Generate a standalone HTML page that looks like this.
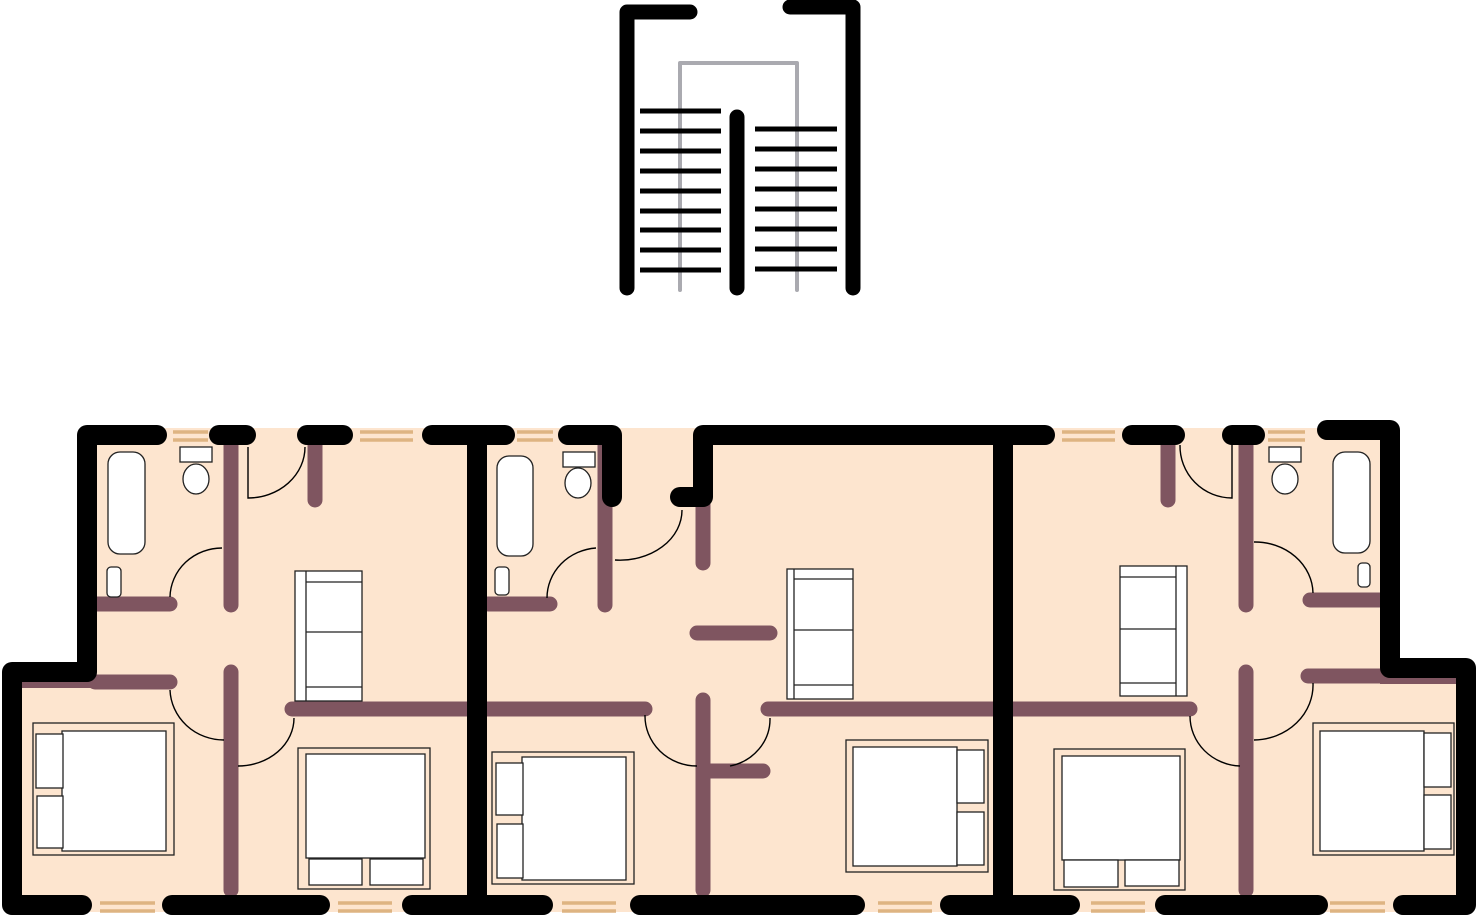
<!DOCTYPE html>
<html><head><meta charset="utf-8"><style>html,body{margin:0;padding:0;background:#fff}svg{display:block}</style></head>
<body>
<svg width="1481" height="917" viewBox="0 0 1481 917" xmlns="http://www.w3.org/2000/svg">
<!-- stairs -->
<g fill="none" stroke-linecap="round" stroke-linejoin="round">
<path d="M680,290 L680,63 L797,63 L797,290" stroke="#aaaab0" stroke-width="4"/>
<g stroke="#000" stroke-width="5" stroke-linecap="butt">
<path d="M640,111H721M640,131H721M640,151H721M640,171H721M640,191H721M640,211H721M640,230H721M640,250H721M640,270H721"/>
<path d="M755,129H837M755,149H837M755,169H837M755,189H837M755,209H837M755,229H837M755,249H837M755,269H837"/>
</g>
<path d="M627,288 L627,12 L690,12" stroke="#000" stroke-width="15"/>
<path d="M790,7 L853,7 L853,288" stroke="#000" stroke-width="15"/>
<path d="M737,117 L737,288" stroke="#000" stroke-width="15"/>
</g>
<!-- floor -->
<polygon points="87,428 1393,428 1393,668 1471,668 1471,912 10,912 10,672 87,672" fill="#fde5cf"/>
<!-- windows -->
<g stroke="#deb482" stroke-width="3.5">
<path d="M173,432H208M173,440H208M360,432H413M360,440H413M517,432H553M517,440H553M1062,432H1115M1062,440H1115M1268,432H1305M1268,440H1305"/>
<path d="M100,903H155M100,911H155M338,903H392M338,911H392M562,903H616M562,911H616M878,903H932M878,911H932M1091,903H1145M1091,911H1145M1330,903H1385M1330,911H1385"/>
</g>
<!-- partitions -->
<g stroke="#7f5560" stroke-width="15" stroke-linecap="round" fill="none">
<path d="M231,440V605M231,672V890M95,604H170M95,682H170M315,440V500M292,709H645"/>
<path d="M605,440V605M488,604H550M703,500V563M697,633H770M703,700V890M703,771H763M768,709H1190"/>
<path d="M1168,440V500M1246,440V605M1246,672V890M1310,600H1385M1308,676H1390"/>
</g>
<g stroke="#7f5560" stroke-width="8"><path d="M20,684H100M1380,680H1466"/></g>
<!-- exterior walls -->
<g stroke="#000" stroke-width="20" stroke-linecap="round" stroke-linejoin="round" fill="none">
<path d="M157,435 L87,435 L87,672 L12,672 L12,905 L82,905"/>
<path d="M219,435H246M307,435H343M432,435H505M477,435V905M172,905H320M412,905H543M640,905H855M950,905H1070M1165,905H1318"/>
<path d="M568,435H612V497"/><path d="M680,497H703V435H1045M1003,435V905"/>
<path d="M1132,435H1175M1232,435H1255"/>
<path d="M1327,430 L1390,430 L1390,668 L1466,668 L1466,905 L1403,905"/>
</g>
<!-- doors -->
<g stroke="#000" stroke-width="1.4" fill="none">
<path d="M222,548 A52,50 0 0,0 170,597"/>
<path d="M248,447 L248,498 A57,51 0 0,0 305,447"/>
<path d="M170,690 A54,52 0 0,0 224,740"/>
<path d="M294,718 A56,48 0 0,1 238,766"/>
<path d="M596,548 A53,50 0 0,0 547,598"/>
<path d="M682,510 A62,50 0 0,1 615,560"/>
<path d="M645,715 A52,50 0 0,0 697,766"/>
<path d="M770,718 A50,48 0 0,1 730,766"/>
<path d="M1180,445 A52,52 0 0,0 1232,498 L1232,445"/>
<path d="M1254,542 A58,52 0 0,1 1313,593"/>
<path d="M1190,716 A52,50 0 0,0 1240,766"/>
<path d="M1313,683 A60,55 0 0,1 1254,740"/>
</g>
<!-- furniture -->
<g stroke="#222" stroke-width="1.3" fill="#fff">
<!-- left unit -->
<rect x="108" y="452" width="37" height="102" rx="12"/>
<rect x="180" y="447" width="32" height="15"/>
<ellipse cx="196" cy="479" rx="13" ry="15"/>
<rect x="107" y="567" width="14" height="30" rx="4"/>
<rect x="295" y="571" width="67" height="130"/><path d="M306,571V701M306,582H362M306,632H362M306,687H362"/>
<rect x="33" y="723" width="141" height="132" fill="none"/>
<rect x="62" y="731" width="104" height="120"/>
<rect x="36" y="734" width="27" height="54"/><rect x="37" y="796" width="26" height="52"/>
<rect x="298" y="748" width="132" height="141" fill="none"/>
<rect x="306" y="754" width="119" height="104"/>
<rect x="309" y="859" width="53" height="26"/><rect x="370" y="859" width="53" height="26"/>
<!-- middle unit -->
<rect x="497" y="456" width="36" height="100" rx="12"/>
<rect x="563" y="452" width="32" height="15"/>
<ellipse cx="578" cy="483" rx="13" ry="15"/>
<rect x="495" y="567" width="14" height="28" rx="4"/>
<rect x="787" y="569" width="66" height="130"/><path d="M794,569V699M794,579H853M794,630H853M794,685H853"/>
<rect x="492" y="752" width="142" height="132" fill="none"/>
<rect x="522" y="757" width="104" height="123"/>
<rect x="496" y="763" width="27" height="52"/><rect x="497" y="824" width="26" height="54"/>
<rect x="846" y="740" width="142" height="132" fill="none"/>
<rect x="853" y="747" width="104" height="119"/>
<rect x="957" y="750" width="27" height="53"/><rect x="957" y="812" width="27" height="53"/>
<!-- right unit -->
<rect x="1269" y="447" width="32" height="15"/>
<ellipse cx="1285" cy="479" rx="13" ry="15"/>
<rect x="1333" y="452" width="37" height="101" rx="12"/>
<rect x="1358" y="563" width="12" height="24" rx="4"/>
<rect x="1120" y="566" width="67" height="130"/><path d="M1176,566V696M1120,577H1176M1120,629H1176M1120,683H1176"/>
<rect x="1054" y="749" width="131" height="141" fill="none"/>
<rect x="1062" y="756" width="118" height="104"/>
<rect x="1064" y="860" width="54" height="27"/><rect x="1125" y="860" width="54" height="26"/>
<rect x="1313" y="723" width="141" height="132" fill="none"/>
<rect x="1320" y="731" width="104" height="120"/>
<rect x="1424" y="733" width="27" height="54"/><rect x="1424" y="795" width="27" height="54"/>
</g>
</svg>
</body></html>
